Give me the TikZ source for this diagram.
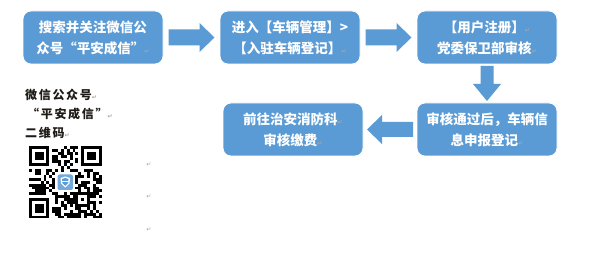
\documentclass[tikz,border=0pt]{standalone}
\usepackage{fontspec}
\usetikzlibrary{calc}
\newfontfamily\cjk{Noto Sans CJK SC}
\newfontfamily\dejavu{DejaVu Sans}
\definecolor{boxblue}{HTML}{5B9BD5}
\definecolor{darktext}{HTML}{1E1A16}
\newcommand\retmark{{\color{black!35}\dejavu\fontsize{6}{6}\selectfont ↵}}
\tikzset{
  flowbox/.style={draw=white, line width=0.8pt, fill=boxblue, rounded corners=8pt,
    text=white, align=center, inner sep=0pt,
    minimum width=140pt, minimum height=53pt,
    font=\cjk\bfseries\fontsize{13.5}{21}\selectfont},
  blockarrow/.style={fill=boxblue, draw=none},
  sidetext/.style={anchor=west, inner sep=0pt, text=darktext,
    font=\cjk\bfseries\fontsize{12}{12}\selectfont\addfontfeature{LetterSpace=14}},
  lonemark/.style={inner sep=0pt},
}
\begin{document}
\begin{tikzpicture}[x=1pt,y=-1pt]
\useasboundingbox (0,0) rectangle (600,253);
\fill[white] (0,0) rectangle (600,253);

% boxes
\node[flowbox] (b1) at (93,37.5) {搜索并关注微信公\\众号“平安成信”\retmark};
\node[flowbox] (b2) at (290,37.5) {进入【车辆管理】>\\【入驻车辆登记】\retmark};
\node[flowbox] (b3) at (487,37.5) {【用户注册】\retmark\\党委保卫部审核\retmark};
\node[flowbox] (b5) at (487,129.5) {审核通过后，车辆信\\息申报登记\retmark};
\node[flowbox] (b4) at (293,129.5) {前往治安消防科\retmark\\审核缴费\retmark};

% block arrows
\begin{scope}[shift={($(b1.east)!0.5!(b2.west)$)}]
  \fill[blockarrow] (-23,-8) -- (8,-8) -- (8,-14.5) -- (23,0) -- (8,14.5) -- (8,8) -- (-23,8) -- cycle;
\end{scope}
\begin{scope}[shift={($(b2.east)!0.5!(b3.west)$)}]
  \fill[blockarrow] (-23,-8) -- (8,-8) -- (8,-14.5) -- (23,0) -- (8,14.5) -- (8,8) -- (-23,8) -- cycle;
\end{scope}
\begin{scope}[shift={($(b3.south)!0.5!(b5.north)$)}, rotate=-90]
  \fill[blockarrow] (-17.5,-6.5) -- (0.5,-6.5) -- (0.5,-14) -- (17.5,0) -- (0.5,14) -- (0.5,6.5) -- (-17.5,6.5) -- cycle;
\end{scope}
\begin{scope}[shift={($(b5.west)!0.5!(b4.east)$)}, rotate=180]
  \fill[blockarrow] (-23,-7.5) -- (8,-7.5) -- (8,-14.5) -- (23,0) -- (8,14.5) -- (8,7.5) -- (-23,7.5) -- cycle;
\end{scope}

% side text
\node[sidetext] (t1) at (25,95) {微信公众号\retmark};
\node[sidetext] (t2) at (27,113.5) {“平安成信”\retmark};
\node[sidetext] (t3) at (25,133) {二维码\retmark};

\node[lonemark] (m1) at (149,165) {\retmark};
\node[lonemark] (m2) at (149,197) {\retmark};
\node[lonemark] (m3) at (149,230) {\retmark};

% QR code
\begin{scope}[shift={(29,146)}]
  \def\ms{2.9}
  \pgfmathsetseed{4242}
  \foreach \i in {0,...,24}{
    \foreach \j in {0,...,24}{
      \pgfmathrandominteger{\r}{0}{99}
      \pgfmathtruncatemacro\skipit{((\i<8)&&(\j<8)) || ((\i>16)&&(\j<8)) || ((\i<8)&&(\j>16)) || ((\i>8)&&(\i<16)&&(\j>8)&&(\j<16)) || ((\i>15)&&(\i<21)&&(\j>15)&&(\j<21))}
      \ifnum\skipit=0
        \ifnum\r<52
          \fill[black] (\i*\ms,\j*\ms) rectangle ++(\ms,\ms);
        \fi
      \fi
    }
  }
  % finder patterns
  \foreach \fx/\fy in {0/0,18/0,0/18}{
    \fill[black] (\fx*\ms,\fy*\ms) rectangle ++(7*\ms,7*\ms);
    \fill[white] (\fx*\ms+\ms,\fy*\ms+\ms) rectangle ++(5*\ms,5*\ms);
    \fill[black] (\fx*\ms+2*\ms,\fy*\ms+2*\ms) rectangle ++(3*\ms,3*\ms);
  }
  % alignment pattern
  \fill[black] (16*\ms,16*\ms) rectangle ++(5*\ms,5*\ms);
  \fill[white] (17*\ms,17*\ms) rectangle ++(3*\ms,3*\ms);
  \fill[black] (18*\ms,18*\ms) rectangle ++(\ms,\ms);
  % logo
  \fill[boxblue!85, rounded corners=2pt] (28.5,28.5) rectangle (44,44);
  \fill[white] (31.5,32) -- (36.25,30.5) -- (41,32) -- (40.5,37.5) -- (36.25,41.5) -- (32,37.5) -- cycle;
  \fill[boxblue] (33,33) -- (36.25,32) -- (39.5,33) -- (39.2,37) -- (36.25,39.8) -- (33.3,37) -- cycle;
  \fill[white] (33,35.3) rectangle (39.5,36.2);
\end{scope}
\end{tikzpicture}
\end{document}
